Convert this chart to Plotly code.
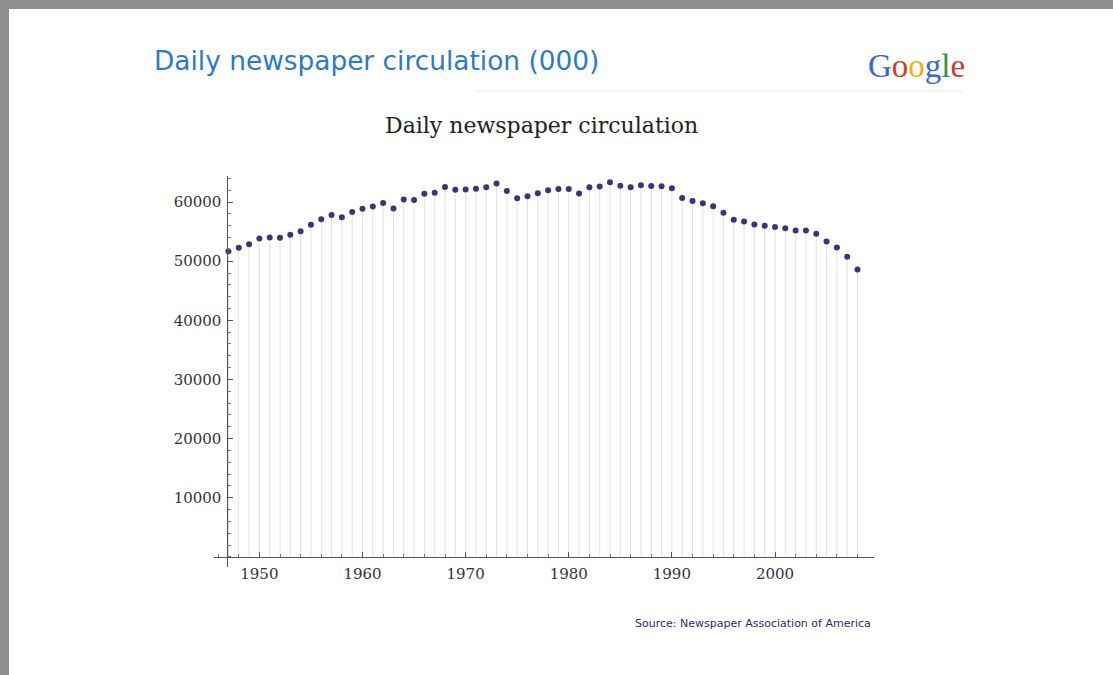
import plotly.graph_objects as go

# ---- data (thousands of copies) ----
years = list(range(1947, 2009))
circulation = [
    51673, 52285, 52846, 53829, 54018, 53951, 54472, 55072, 56147, 57102,
    57805, 57418, 58300, 58882, 59261, 59849, 58905, 60412, 60358, 61397,
    61561, 62535, 62060, 62108, 62231, 62510, 63147, 61877, 60655, 60977,
    61495, 61990, 62223, 62202, 61431, 62487, 62645, 63340, 62766, 62502,
    62826, 62695, 62649, 62328, 60687, 60164, 59812, 59305, 58193, 56983,
    56728, 56182, 55979, 55773, 55578, 55186, 55185, 54626, 53345, 52329,
    50742, 48597,
]
y_tick_vals = [10000, 20000, 30000, 40000, 50000, 60000]
x_tick_vals = [1950, 1960, 1970, 1980, 1990, 2000]

# ---- layout geometry (pixels) ----
W, H = 1113, 675
L, R, T, B = 214, 239, 176, 108
PW, PH = W - L - R, H - T - B
XR = [1945.6, 2009.6]
YR = [-1700, 64400]


def px(x):
    return (x - L) / PW


def py(y):
    return (H - B - y) / PH


fig = go.Figure()

fig.add_trace(go.Scatter(
    x=years, y=circulation, mode="markers",
    marker=dict(color="#36367a", size=6),
    error_y=dict(type="data", symmetric=False,
                 array=[0] * len(circulation), arrayminus=circulation,
                 width=0, thickness=1, color="#e2e2e2"),
    hoverinfo="x+y", showlegend=False,
))

serif = "DejaVu Serif, serif"
sans = "DejaVu Sans, sans-serif"

fig.update_layout(
    width=W, height=H,
    margin=dict(l=L, r=R, t=T, b=B),
    paper_bgcolor="#8f8f8f",
    plot_bgcolor="rgba(0,0,0,0)",
    xaxis=dict(
        range=XR, anchor="free",
        position=(0 - YR[0]) / (YR[1] - YR[0]),
        showgrid=False, zeroline=False,
        showline=True, linecolor="#555", linewidth=1,
        tickmode="array", tickvals=x_tick_vals,
        ticks="inside", ticklen=5, tickcolor="#555",
        minor=dict(dtick=2, tick0=1946, ticks="inside", ticklen=3, tickcolor="#777"),
        tickfont=dict(family=serif, size=15, color="#333"),
        ticklabelstandoff=3,
    ),
    yaxis=dict(
        range=YR, anchor="free",
        position=(1946.9 - XR[0]) / (XR[1] - XR[0]),
        showgrid=False, zeroline=False,
        showline=True, linecolor="#555", linewidth=1,
        tickmode="array", tickvals=y_tick_vals,
        tickformat="d",
        ticks="inside", ticklen=5, tickcolor="#555",
        minor=dict(dtick=2000, tick0=0, ticks="inside", ticklen=3, tickcolor="#777"),
        tickfont=dict(family=serif, size=15, color="#333"),
        ticklabelstandoff=3,
    ),
    shapes=[
        dict(type="rect", xref="paper", yref="paper", layer="below",
             x0=px(9), x1=px(W + 20), y0=py(H + 20), y1=py(9),
             fillcolor="white", line=dict(width=0)),
        dict(type="line", xref="paper", yref="paper", layer="below",
             x0=px(476), x1=px(963), y0=py(91), y1=py(91),
             line=dict(color="#ececec", width=1)),
    ],
    annotations=[
        dict(text="Daily newspaper circulation (000)", xref="paper", yref="paper",
             x=px(152), y=py(61), xanchor="left", yanchor="middle", showarrow=False,
             font=dict(family=sans, size=26.4, color="#2b7bc8")),
        dict(text="Daily newspaper circulation", xref="paper", yref="paper",
             x=px(541), y=py(125), xanchor="center", yanchor="middle", showarrow=False,
             font=dict(family=serif, size=22, color="#222")),
        dict(text=('<span style="color:#3a67c9">G</span>'
                   '<span style="color:#d23a2a">o</span>'
                   '<span style="color:#e8b21a">o</span>'
                   '<span style="color:#3a67c9">g</span>'
                   '<span style="color:#2e9a3c">l</span>'
                   '<span style="color:#d23a2a">e</span>'),
             xref="paper", yref="paper",
             x=px(916), y=py(66), xanchor="center", yanchor="middle", showarrow=False,
             font=dict(family="Liberation Serif, serif", size=33)),
        dict(text="Source: Newspaper Association of America", xref="paper", yref="paper",
             x=px(873), y=py(623), xanchor="right", yanchor="middle", showarrow=False,
             font=dict(family=sans, size=11, color="#1f2f6a")),
    ],
)

fig.write_html("out.html")
